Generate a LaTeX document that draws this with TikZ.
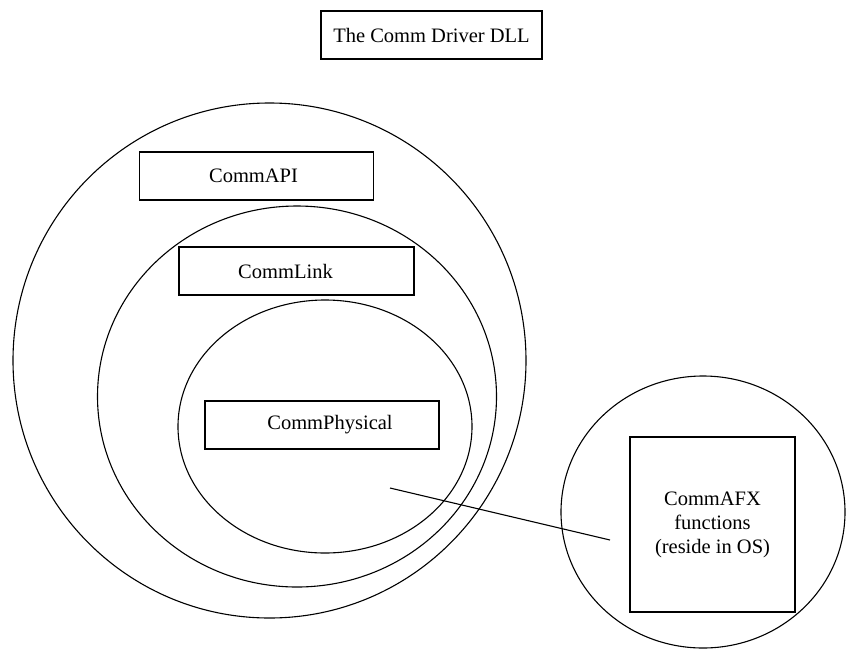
\documentclass[tikz,border=0pt]{standalone}
\usepackage{fontspec}
\setmainfont{Liberation Serif}
\usetikzlibrary{shapes.geometric}
\begin{document}
\begin{tikzpicture}[x=1pt,y=-1pt,line width=1.1pt,
  ring/.style={draw,ellipse,inner sep=0pt},
  layerbox/.style={draw,rectangle,inner sep=0pt},
  caption/.style={font=\fontsize{20.5}{24}\selectfont,inner sep=0pt,align=center}]
\useasboundingbox (0,0) rectangle (846,649);

% title
\node[layerbox,minimum width=221pt,minimum height=48pt] (title) at (431.5,35) {};
\node[caption] at (title.center) {The Comm Driver DLL};

% nested layers of the DLL
\node[ring,minimum width=513pt,minimum height=515pt] (outer) at (269.5,360.5) {};
\node[ring,minimum width=399pt,minimum height=381pt] (middle) at (297,396.5) {};
\node[ring,minimum width=294pt,minimum height=253pt] (inner) at (325,426.5) {};

\node[layerbox,minimum width=234pt,minimum height=48pt] (api) at (256.5,176) {};
\node[caption] at ([xshift=-3pt]api.center) {CommAPI};

\node[layerbox,minimum width=235pt,minimum height=48pt] (link) at (296.5,271) {};
\node[caption] at ([xshift=-11pt]link.center) {CommLink};

\node[layerbox,minimum width=234pt,minimum height=48pt] (phys) at (322,425) {};
\node[caption] at ([xshift=8pt]phys.center) {CommPhysical};

% operating system side
\node[ring,minimum width=284pt,minimum height=272pt] (os) at (703,512) {};
\node[layerbox,minimum width=165pt,minimum height=175pt] (afx) at (712.5,524.5) {};
\node[caption] at (afx.center) {CommAFX\\functions\\(reside in OS)};

% link between the physical layer and the OS functions
\coordinate (phys tail) at (390,488);
\coordinate (afx tail) at (610,540);
\draw (phys tail) -- (afx tail);
\end{tikzpicture}
\end{document}
